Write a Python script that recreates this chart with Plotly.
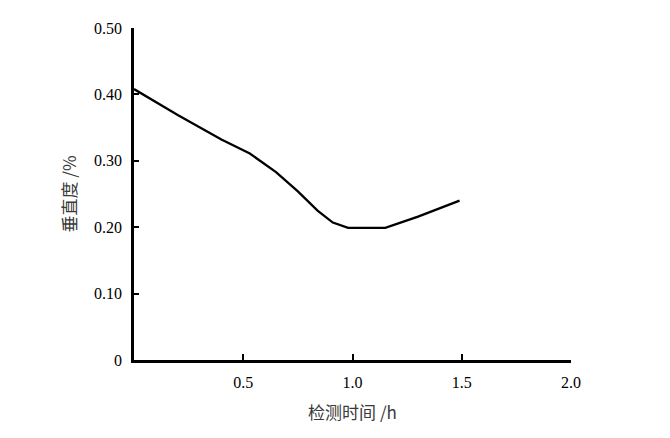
import plotly.graph_objects as go

time_h = [0, 0.2, 0.4, 0.53, 0.65, 0.75, 0.84, 0.91, 0.98, 1.15, 1.3, 1.49]
verticality = [0.408, 0.369, 0.332, 0.311, 0.283, 0.254, 0.225, 0.207, 0.199, 0.199, 0.216, 0.240]

x_tickvals = [0.5, 1.0, 1.5, 2.0]
x_ticktext = ["0.5", "1.0", "1.5", "2.0"]
y_tickvals = [0, 0.1, 0.2, 0.3, 0.4, 0.5]
y_ticktext = ["0", "0.10", "0.20", "0.30", "0.40", "0.50"]

fig = go.Figure()
fig.add_trace(go.Scatter(x=time_h, y=verticality, mode="lines",
                         line=dict(color="black", width=2.3), showlegend=False))

tickfont = dict(family="Liberation Serif, Times New Roman, serif", size=16, color="black")
titlefont = dict(family="Noto Sans CJK SC, Liberation Serif, serif", size=17, color="#3a3a3a")

fig.update_layout(
    width=670, height=438,
    margin=dict(l=126, r=107, t=18, b=86),
    paper_bgcolor="white", plot_bgcolor="white",
    xaxis=dict(range=[0, 2.0], tickvals=x_tickvals, ticktext=x_ticktext,
               ticks="inside", ticklen=6, tickwidth=2, tickcolor="black",
               showline=True, linecolor="black", linewidth=2.5,
               showgrid=False, zeroline=False, tickfont=tickfont,
               ticklabelstandoff=6,
               title=dict(text="检测时间 /h", font=titlefont, standoff=18)),
    yaxis=dict(range=[0, 0.5], tickvals=y_tickvals, ticktext=y_ticktext,
               ticks="inside", ticklen=5, tickwidth=2, tickcolor="black",
               showline=True, linecolor="black", linewidth=2.5,
               showgrid=False, zeroline=False, tickfont=tickfont,
               ticklabelstandoff=6,
               title=dict(text="垂直度 /%", font=titlefont, standoff=14)),
)

fig.write_html("out.html")
